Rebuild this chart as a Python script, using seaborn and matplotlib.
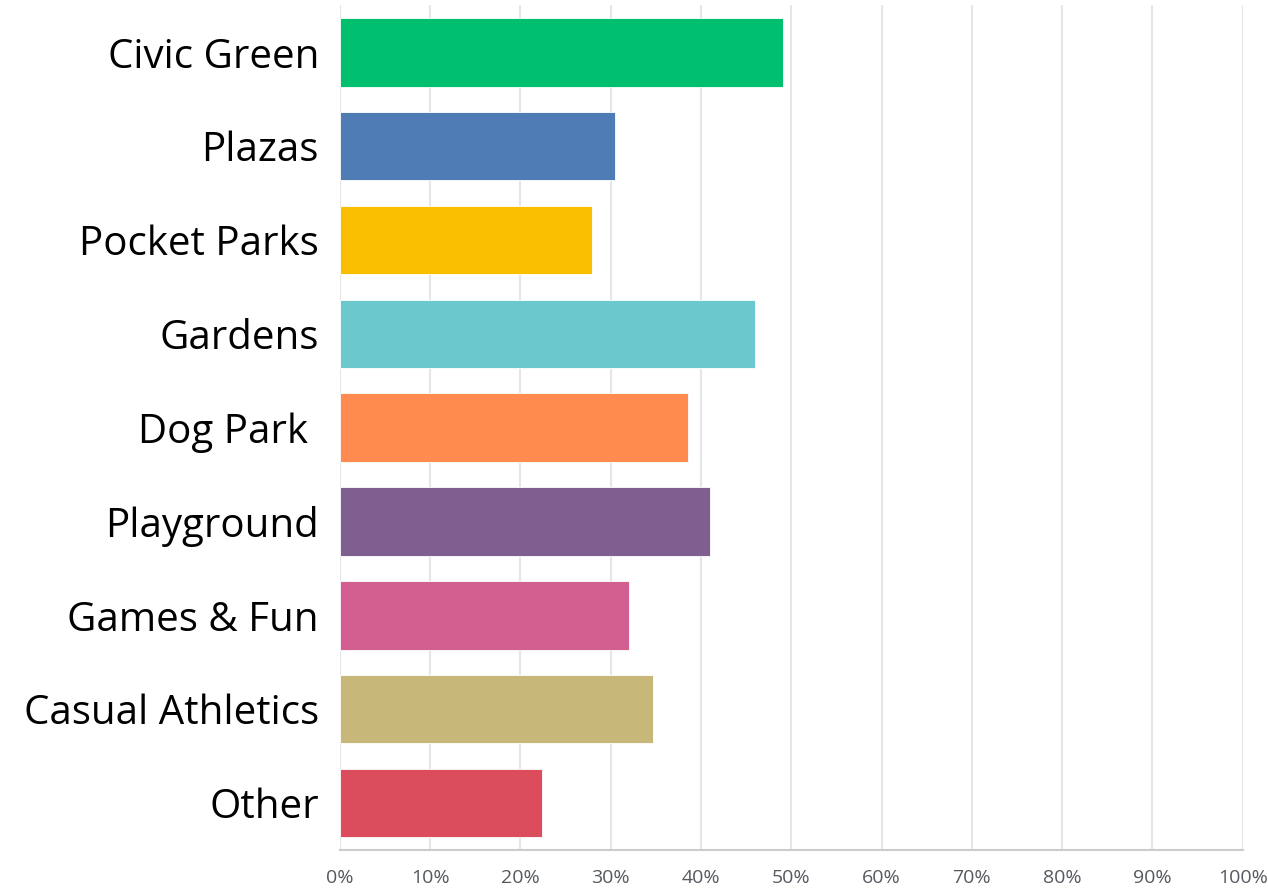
import matplotlib
matplotlib.use("Agg")
import matplotlib.pyplot as plt
import seaborn as sns
import pandas as pd
from matplotlib.ticker import PercentFormatter

# survey answers and share of respondents (%)
categories = ["Civic Green", "Plazas", "Pocket Parks", "Gardens", "Dog Park ",
              "Playground", "Games & Fun", "Casual Athletics", "Other"]
shares = [49.1, 30.5, 27.9, 46.0, 38.6, 41.0, 32.0, 34.7, 22.4]
colors = ["#00BF6F", "#507CB6", "#F9BE00", "#6BC8CD", "#FF8B4F",
          "#7F5F90", "#D25F90", "#C7B879", "#DB4D5C"]
xticks = [0, 10, 20, 30, 40, 50, 60, 70, 80, 90, 100]

df = pd.DataFrame({"category": categories, "share": shares})

sns.set_style("white")
plt.rcParams['font.family'] = ['Open Sans', 'DejaVu Sans']

fig = plt.figure(figsize=(12.68, 8.90), dpi=100)
ax = fig.add_axes([0.268, 0.045, 0.712, 0.949])

sns.barplot(data=df, y="category", x="share", hue="category", palette=colors,
            orient="h", width=0.73, saturation=1, legend=False, ax=ax, zorder=3)

for p in ax.patches:
    p.set_edgecolor("white")
    p.set_linewidth(0.6)

ax.set_xlim(0, 100)
ax.set_ylim(8.5, -0.5)
ax.set_xticks(xticks)
ax.xaxis.set_major_formatter(PercentFormatter(decimals=0))
ax.grid(axis="x", color="#e6e6e6", linewidth=1.5, zorder=0)
ax.set_axisbelow(True)
for s in ["top", "right", "left"]:
    ax.spines[s].set_visible(False)
ax.spines["bottom"].set_color("#cccccc")
ax.spines["bottom"].set_linewidth(1.5)

ax.set_xlabel("")
ax.set_ylabel("")
ax.tick_params(axis="x", length=0, pad=14, labelsize=14, labelcolor="#555a60")
ax.tick_params(axis="y", length=0, pad=15, labelsize=29, labelcolor="#000000")
for lbl in ax.get_yticklabels():
    lbl.set_y(lbl.get_position()[1])
    lbl.set_va("center_baseline")

fig.savefig("out.png", dpi=100)
